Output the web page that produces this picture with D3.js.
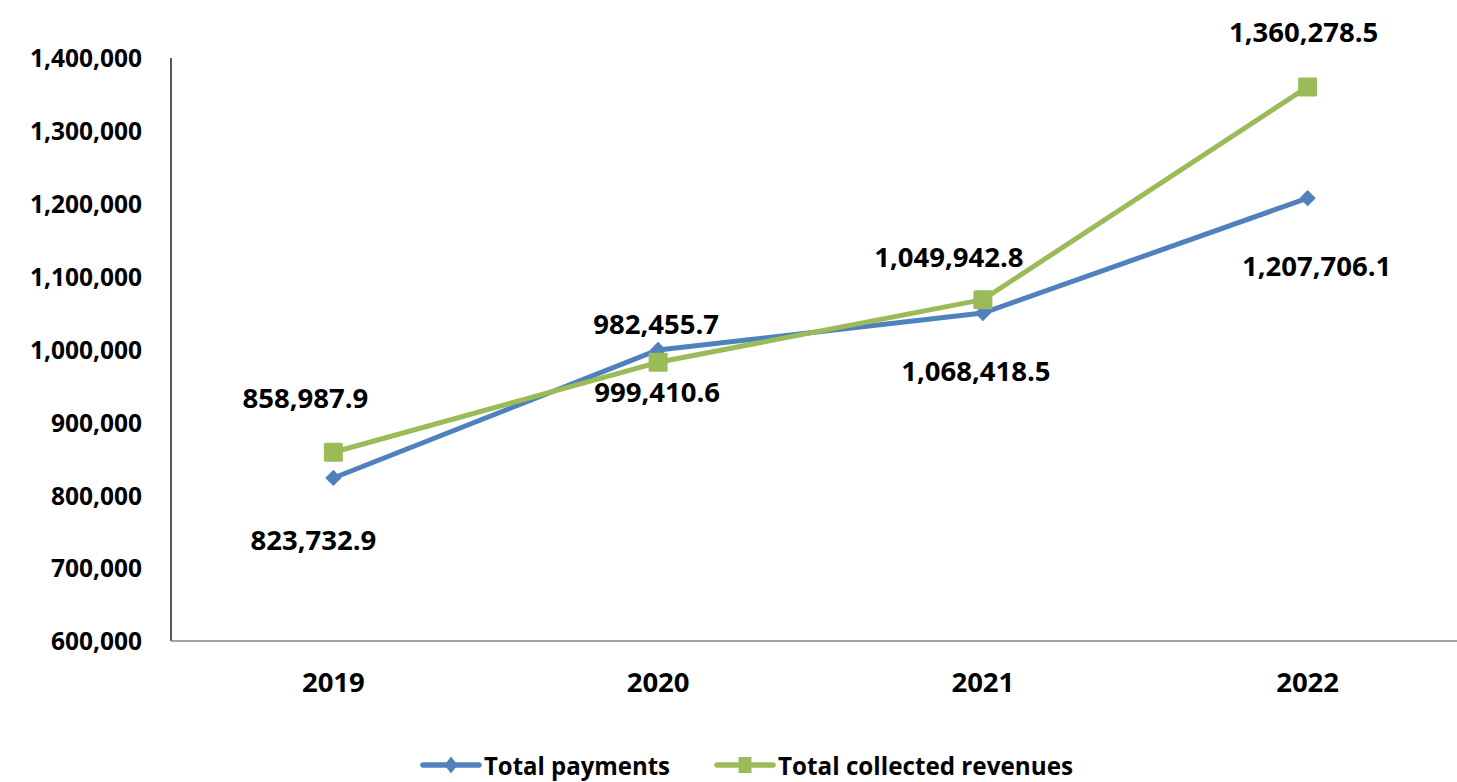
<!DOCTYPE html>
<html>
<head>
<meta charset="utf-8">
<script src="https://cdn.jsdelivr.net/npm/d3@7"></script>
<style>
  html, body { margin: 0; padding: 0; background: #ffffff; }
  svg { display: block; }
  text { font-family: "Open Sans", Lato, sans-serif; font-weight: 700; fill: #000; }
</style>
</head>
<body>
<svg id="chart" width="1457" height="782"></svg>
<script>
// Years on the category axis
const years = ["2019", "2020", "2021", "2022"];

// Series values
const totalPayments = [823732.9, 999410.6, 1049942.8, 1207706.1];
const totalCollectedRevenues = [858987.9, 982455.7, 1068418.5, 1360278.5];

// Value axis ticks
const yTicks = [600000, 700000, 800000, 900000, 1000000, 1100000, 1200000, 1300000, 1400000];

// Legend names
const seriesNames = ["Total payments", "Total collected revenues"];

const W = 1457, H = 782;
const svg = d3.select("#chart");
const FONT = "'Open Sans', Lato, sans-serif";

const plot = { left: 171, top: 58, bottom: 641, right: 1470 };

const x = d3.scaleBand().domain(years).range([plot.left, plot.right]).padding(0);
const cx = d => x(d) + x.bandwidth() / 2;
const y = d3.scaleLinear().domain([600000, 1400000]).range([plot.bottom, plot.top]);

const fmt = d3.format(",");
const fmt1 = d3.format(",.1f");

// Value axis labels (no gridlines, no tick marks)
const yAxis = d3.axisLeft(y).tickValues(yTicks).tickSize(0).tickPadding(29).tickFormat(fmt);
const gy = svg.append("g").attr("transform", `translate(${plot.left},0)`).call(yAxis);
gy.select(".domain").remove();
gy.selectAll("text")
  .attr("font-family", FONT)
  .attr("font-weight", 700)
  .attr("font-size", 24.5)
  .attr("fill", "#000")
  .attr("dy", "0.36em");

// Category axis labels
const xAxis = d3.axisBottom(x).tickSize(0).tickPadding(0);
const gx = svg.append("g").attr("transform", `translate(0,${plot.bottom})`).call(xAxis);
gx.select(".domain").remove();
gx.selectAll("text")
  .attr("font-family", FONT)
  .attr("font-weight", 700)
  .attr("font-size", 27.5)
  .attr("fill", "#000")
  .attr("y", 41)
  .attr("dy", "0.36em");

// Axis lines
svg.append("line")
  .attr("x1", plot.left).attr("x2", plot.left)
  .attr("y1", plot.top).attr("y2", plot.bottom)
  .attr("stroke", "#222").attr("stroke-width", 1.5);
svg.append("line")
  .attr("x1", plot.left).attr("x2", W)
  .attr("y1", plot.bottom).attr("y2", plot.bottom)
  .attr("stroke", "#868686").attr("stroke-width", 1.5);

const blue = "#4F81BD", green = "#9BBB59";

const line = d3.line().x((d, i) => cx(years[i])).y(d => y(d));

// Payments series: line + diamond markers
svg.append("path")
  .datum(totalPayments)
  .attr("d", line)
  .attr("fill", "none")
  .attr("stroke", blue)
  .attr("stroke-width", 5)
  .attr("stroke-linejoin", "round");
const diamond = d3.symbol().type(d3.symbolDiamond2).size(170);
svg.selectAll("path.pay-marker")
  .data(totalPayments)
  .join("path")
  .attr("class", "pay-marker")
  .attr("d", diamond)
  .attr("transform", (d, i) => `translate(${cx(years[i])},${y(d)})`)
  .attr("fill", blue);

// Revenues series: line + square markers
svg.append("path")
  .datum(totalCollectedRevenues)
  .attr("d", line)
  .attr("fill", "none")
  .attr("stroke", green)
  .attr("stroke-width", 5)
  .attr("stroke-linejoin", "round");
const sq = 19;
svg.selectAll("rect.rev-marker")
  .data(totalCollectedRevenues)
  .join("rect")
  .attr("class", "rev-marker")
  .attr("x", (d, i) => cx(years[i]) - sq / 2)
  .attr("y", d => y(d) - sq / 2)
  .attr("width", sq).attr("height", sq)
  .attr("rx", 1.5)
  .attr("fill", green);

// Data label placement (offset of label centre from its point)
const payLabelOffset = [[-20, 62], [-1, 42], [-34, -56], [9, 68]];
const revLabelOffset = [[-28, -54], [-2, -38], [-7, 71], [-4, -55]];

function labels(values, offsets, cls) {
  svg.selectAll("text." + cls)
    .data(values)
    .join("text")
    .attr("class", cls)
    .attr("x", (d, i) => cx(years[i]) + offsets[i][0])
    .attr("y", (d, i) => y(d) + offsets[i][1])
    .attr("dy", "0.36em")
    .attr("text-anchor", "middle")
    .attr("font-size", 27.5)
    .text(d => fmt1(d));
}
labels(totalPayments, payLabelOffset, "pay-label");
labels(totalCollectedRevenues, revLabelOffset, "rev-label");

// Legend
const legendY = 765;
const legend = [
  { name: seriesNames[0], color: blue, x0: 423, x1: 479, marker: "diamond", w: 186 },
  { name: seriesNames[1], color: green, x0: 717, x1: 773, marker: "square", w: 295 }
];
legend.forEach(l => {
  svg.append("line")
    .attr("x1", l.x0).attr("x2", l.x1)
    .attr("y1", legendY).attr("y2", legendY)
    .attr("stroke", l.color).attr("stroke-width", 5.5)
    .attr("stroke-linecap", "round");
  const mx = (l.x0 + l.x1) / 2;
  if (l.marker === "diamond") {
    svg.append("path")
      .attr("d", "M0,-8.5L6.5,0L0,8.5L-6.5,0Z")
      .attr("transform", `translate(${mx},${legendY})`)
      .attr("fill", l.color);
  } else {
    svg.append("rect")
      .attr("x", mx - 6.5).attr("y", legendY - 8)
      .attr("width", 13).attr("height", 16)
      .attr("fill", l.color);
  }
  svg.append("text")
    .attr("x", l.x1 + 5)
    .attr("y", 775)
    .attr("font-size", 24.5)
    .attr("textLength", l.w)
    .attr("lengthAdjust", "spacingAndGlyphs")
    .text(l.name);
});
</script>
</body>
</html>
